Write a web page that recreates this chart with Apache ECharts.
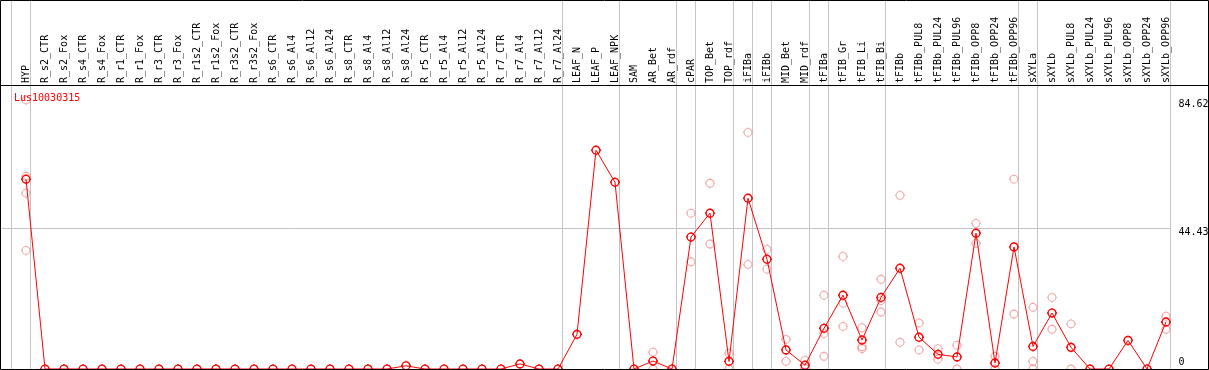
<!DOCTYPE html>
<html>
<head>
<meta charset="utf-8">
<script src="https://cdn.jsdelivr.net/npm/echarts@6/dist/echarts.min.js"></script>
<style>
html,body{margin:0;padding:0;background:#fff;}
#chart{width:1209px;height:370px;}
</style>
</head>
<body>
<div id="chart"></div>
<script>
const categories = ["HYP","R_s2_CTR","R_s2_Fox","R_s4_CTR","R_s4_Fox","R_r1_CTR","R_r1_Fox","R_r3_CTR","R_r3_Fox","R_r1s2_CTR","R_r1s2_Fox","R_r3s2_CTR","R_r3s2_Fox","R_s6_CTR","R_s6_Al4","R_s6_Al12","R_s6_Al24","R_s8_CTR","R_s8_Al4","R_s8_Al12","R_s8_Al24","R_r5_CTR","R_r5_Al4","R_r5_Al12","R_r5_Al24","R_r7_CTR","R_r7_Al4","R_r7_Al12","R_r7_Al24","LEAF_N","LEAF_P","LEAF_NPK","SAM","AR_Bet","AR_rdf","cPAR","TOP_Bet","TOP_rdf","iFIBa","iFIBb","MID_Bet","MID_rdf","tFIBa","tFIB_Gr","tFIB_Li","tFIB_Bi","tFIBb","tFIBb_PUL8","tFIBb_PUL24","tFIBb_PUL96","tFIBb_OPP8","tFIBb_OPP24","tFIBb_OPP96","sXYLa","sXYLb","sXYLb_PUL8","sXYLb_PUL24","sXYLb_PUL96","sXYLb_OPP8","sXYLb_OPP24","sXYLb_OPP96"];

const meanValues = [59.7,0,0,0,0,0,0,0,0,0,0,0,0,0,0,0,0,0,0,0,1.0,0,0,0,0,0,1.6,0,0,10.9,68.8,58.7,0,2.5,0,41.5,49.0,2.4,53.7,34.5,6.0,1.2,12.8,23.2,9.1,22.5,31.7,10.0,4.6,3.8,42.7,1.9,38.4,7.1,17.6,6.8,0,0,9.0,0,14.8];

const N = null;
const rep1 = [84.62,N,N,N,N,N,N,N,N,N,N,N,N,N,N,N,N,N,N,N,N,N,N,N,N,N,N,N,N,N,N,N,N,5.3,N,49.0,58.4,4.9,74.4,37.6,9.3,2.7,23.2,35.4,13.0,28.2,54.6,14.5,6.4,7.5,45.8,4.0,59.7,19.4,22.5,14.2,N,N,N,N,16.6];
const rep2 = [60.6,N,N,N,N,N,N,N,N,N,N,N,N,N,N,N,N,N,N,N,N,N,N,N,N,N,N,N,N,N,N,N,N,0,N,33.7,39.3,0,32.9,31.4,2.4,0.2,11.2,20.7,7.0,21.5,8.4,6.0,3.1,0,39.5,0,17.3,2.4,12.5,0,N,N,N,N,12.5];
const rep3 = [55.3,N,N,N,N,N,N,N,N,N,N,N,N,N,N,N,N,N,N,N,N,N,N,N,N,N,N,N,N,N,N,N,N,N,N,N,N,N,N,N,N,N,4.0,13.4,6.4,17.9,N,N,N,N,N,N,N,0,N,N,N,N,N,N,N];
const rep4 = [37.3,N,N,N,N,N,N,N,N,N,N,N,N,N,N,N,N,N,N,N,N,N,N,N,N,N,N,N,N,N,N,N,N,N,N,N,N,N,N,N,N,N,N,N,N,N,N,N,N,N,N,N,N,N,N,N,N,N,N,N,N];

const yTicks = [0, 44.43, 84.62];
const groupBreaks = [-1, 0, 28, 31, 34, 35, 37, 38, 39, 41, 42, 45, 52, 53, 60];
const title = "Lus10030315";

const FONT = "DejaVu Sans Mono";
const SEP_OFFSET = 0.2263;
const markerPath = 'path://M5,1.1A3.9,3.9,0,0,1,5,8.9A3.9,3.9,0,0,1,5,1.1Z M5,0L5,1.1 M5,8.9L5,10 M0,5L1.1,5 M8.9,5L10,5';

function toPairs(arr){
  const out = [];
  arr.forEach((v,i)=>{ if(v!==null) out.push([i, v]); });
  return out;
}

const chart = echarts.init(document.getElementById('chart'), null, {renderer:'canvas'});

const repSeries = [rep1, rep2, rep3, rep4].map(r => ({
  type:'scatter',
  data: toPairs(r),
  symbol: markerPath,
  symbolSize: 10,
  itemStyle:{color:'rgba(0,0,0,0)', borderColor:'#f09494', borderWidth:1.1},
  silent:true,
  z:2
}));

chart.setOption({
  animation:false,
  backgroundColor:'#fff',
  title:{
    text: title, left: 9, top: 88,
    textStyle:{color:'#ff0000', fontFamily:FONT, fontSize:10, fontWeight:'normal'}
  },
  grid:{left:16.5, right:33.5, top:85, height:284, containLabel:false, outerBoundsMode:'none'},
  xAxis:{
    type:'category', position:'top', data:categories, boundaryGap:true,
    axisLine:{show:false}, axisTick:{show:false}, splitLine:{show:false},
    axisLabel:{interval:0, rotate:90, margin:2, fontFamily:FONT, fontSize:10, color:'#000'}
  },
  yAxis:[
    {type:'value', position:'right', min:0, max:89.3,
     axisLine:{show:false}, axisTick:{show:false}, splitLine:{show:false},
     axisLabel:{customValues:[yTicks[1], yTicks[2]], verticalAlign:'top', margin:3, fontFamily:FONT, fontSize:10, color:'#000', formatter: v => String(v)}},
    {type:'value', position:'right', min:0, max:89.3,
     axisLine:{show:false}, axisTick:{show:false}, splitLine:{show:false},
     axisLabel:{customValues:[yTicks[0]], verticalAlign:'bottom', margin:3, padding:[0,0,2,0], fontFamily:FONT, fontSize:10, color:'#000', formatter: v => String(v)}}
  ],
  graphic:[
    {type:'rect', shape:{x:0.5, y:0.5, width:1208, height:369}, style:{fill:null, stroke:'#000', lineWidth:1}, z:100, silent:true},
    {type:'line', shape:{x1:0, y1:85.5, x2:1209, y2:85.5}, style:{stroke:'#000', lineWidth:1}, z:100, silent:true}
  ],
  series:[
    {
      type:'custom', silent:true, z:1, clip:false,
      data: groupBreaks.map(b => [Math.max(b,0), 0]),
      encode:{x:0, y:1},
      renderItem:(params, api) => {
        const b = groupBreaks[params.dataIndex];
        const band = api.size([1,0])[0];
        const x0 = api.coord([0,0])[0];
        const x = Math.round(x0 + b*band + band*SEP_OFFSET) + 0.5;
        return {type:'line', shape:{x1:x, y1:0, x2:x, y2:369}, style:{stroke:'#c4c4c4', lineWidth:1}};
      }
    },
    {
      type:'custom', silent:true, z:1, clip:false,
      data: [[0, yTicks[1]]],
      encode:{x:0, y:1},
      renderItem:(params, api) => {
        const band = api.size([1,0])[0];
        const y = Math.round(api.coord([0, api.value(1)])[1]) + 0.5;
        const x2 = api.coord([categories.length-1, 0])[0] + band*SEP_OFFSET;
        return {type:'line', shape:{x1:1, y1:y, x2:x2, y2:y}, style:{stroke:'#c4c4c4', lineWidth:1}};
      }
    },
    ...repSeries,
    {
      type:'line',
      data: meanValues,
      symbol: markerPath,
      symbolSize: 10,
      showAllSymbol:true,
      lineStyle:{color:'#ff0000', width:1},
      itemStyle:{color:'rgba(0,0,0,0)', borderColor:'#ff0000', borderWidth:1.4},
      silent:true,
      z:3
    }
  ]
});
</script>
</body>
</html>
